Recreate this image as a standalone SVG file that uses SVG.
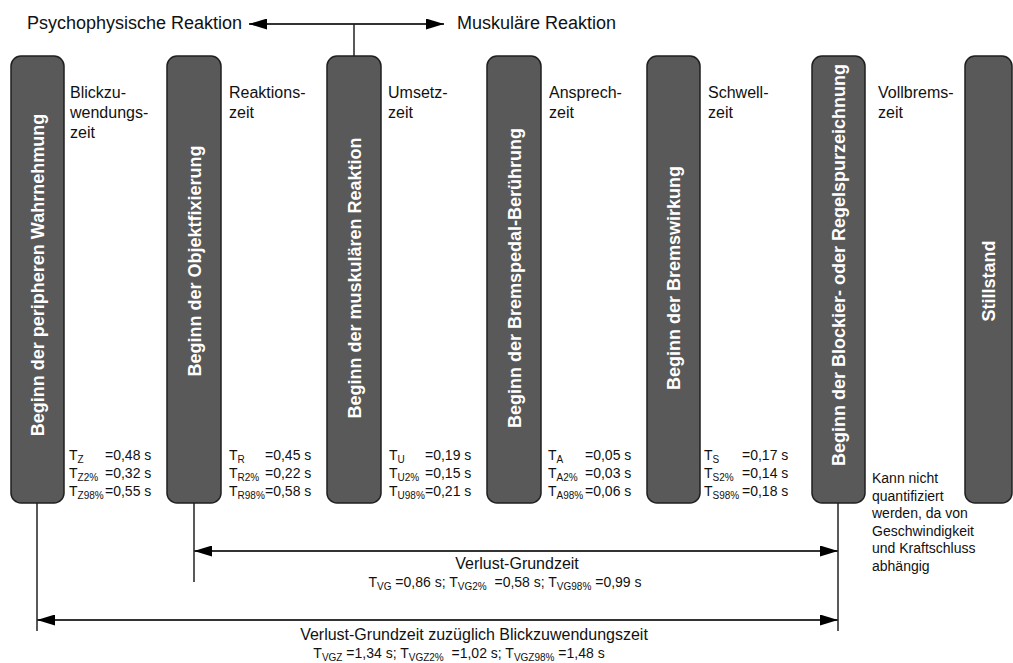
<svg xmlns="http://www.w3.org/2000/svg" width="1013" height="663" viewBox="0 0 1013 663">
  <style>
    .bar { fill: #595959; stroke: #1f1f1f; stroke-width: 1.5; }
    .barlabel { font-family: "Liberation Sans", Arial, sans-serif; font-size: 18px; font-weight: bold; fill: #ffffff; text-anchor: middle; }
    .lbl { font-family: "Liberation Sans", Arial, sans-serif; font-size: 16px; fill: #111111; }
    .title { font-family: "Liberation Sans", Arial, sans-serif; font-size: 18px; fill: #111111; }
    .val { font-family: "Liberation Sans", Arial, sans-serif; font-size: 14px; fill: #111111; }
    .sub { font-size: 10px; }
    .mid { text-anchor: middle; }
    .conn { stroke: #222222; stroke-width: 1.5; fill: none; }
    .dim { stroke: #333333; stroke-width: 2; fill: none; marker-start: url(#head); marker-end: url(#head); }
  </style>
  <defs>
    <marker id="head" viewBox="0 0 18 11" refX="18" refY="5.5" markerWidth="18" markerHeight="11" markerUnits="userSpaceOnUse" orient="auto-start-reverse">
      <path d="M0,0 L18,5.5 L0,11 Z" fill="#000000"/>
    </marker>
  </defs>

  <rect width="1013" height="663" fill="#ffffff"/>

  <!-- phase headings -->
  <text class="title" x="27" y="29">Psychophysische Reaktion</text>
  <text class="title" x="457" y="29">Muskuläre Reaktion</text>

  <!-- connectors -->
  <g id="connectors">
    <line class="dim" x1="249" y1="24" x2="444" y2="24"/>
    <line class="conn" x1="354" y1="24" x2="354" y2="56"/>
    <line class="conn" x1="37" y1="503" x2="37" y2="631"/>
    <line class="conn" x1="194" y1="503" x2="194" y2="582"/>
    <line class="conn" x1="838" y1="503" x2="838" y2="631"/>
    <line class="dim" x1="194" y1="551" x2="838" y2="551"/>
    <line class="dim" x1="37" y1="620" x2="838" y2="620"/>
  </g>

  <!-- event bars -->
  <g id="node-wahrnehmung">
    <rect class="bar" x="11" y="56" width="53" height="447" rx="10"/>
    <text class="barlabel" transform="translate(44,275) rotate(-90)">Beginn der peripheren Wahrnehmung</text>
  </g>
  <g id="node-objektfixierung">
    <rect class="bar" x="167" y="56" width="54" height="447" rx="10"/>
    <text class="barlabel" transform="translate(200.5,261) rotate(-90)">Beginn der Objektfixierung</text>
  </g>
  <g id="node-muskulaer">
    <rect class="bar" x="327" y="56" width="54" height="447" rx="10"/>
    <text class="barlabel" transform="translate(360.5,278) rotate(-90)">Beginn der muskulären Reaktion</text>
  </g>
  <g id="node-bremspedal">
    <rect class="bar" x="487" y="56" width="54" height="447" rx="10"/>
    <text class="barlabel" transform="translate(520.5,278) rotate(-90)">Beginn der Bremspedal-Berührung</text>
  </g>
  <g id="node-bremswirkung">
    <rect class="bar" x="647" y="56" width="53" height="447" rx="10"/>
    <text class="barlabel" transform="translate(680,278) rotate(-90)">Beginn der Bremswirkung</text>
  </g>
  <g id="node-blockierspur">
    <rect class="bar" x="812" y="56" width="53" height="447" rx="10"/>
    <text class="barlabel" transform="translate(845,265) rotate(-90)">Beginn der Blockier- oder Regelspurzeichnung</text>
  </g>
  <g id="node-stillstand">
    <rect class="bar" x="965" y="56" width="47" height="447" rx="10"/>
    <text class="barlabel" transform="translate(995,281) rotate(-90)">Stillstand</text>
  </g>

  <!-- interval names -->
  <g id="label-blickzuwendung">
    <text class="lbl" x="70" y="98">Blickzu-</text>
    <text class="lbl" x="70" y="118">wendungs-</text>
    <text class="lbl" x="70" y="138">zeit</text>
  </g>
  <g id="label-reaktion">
    <text class="lbl" x="229" y="98">Reaktions-</text>
    <text class="lbl" x="229" y="118">zeit</text>
  </g>
  <g id="label-umsetz">
    <text class="lbl" x="388" y="98">Umsetz-</text>
    <text class="lbl" x="388" y="118">zeit</text>
  </g>
  <g id="label-ansprech">
    <text class="lbl" x="549" y="98">Ansprech-</text>
    <text class="lbl" x="549" y="118">zeit</text>
  </g>
  <g id="label-schwell">
    <text class="lbl" x="708" y="98">Schwell-</text>
    <text class="lbl" x="708" y="118">zeit</text>
  </g>
  <g id="label-vollbrems">
    <text class="lbl" x="878" y="98">Vollbrems-</text>
    <text class="lbl" x="878" y="118">zeit</text>
  </g>

  <!-- interval values -->
  <g id="values-z">
    <text class="val" x="69" y="460">T<tspan class="sub" dy="3">Z</tspan></text>
    <text class="val" x="105" y="460">=0,48 s</text>
    <text class="val" x="69" y="478">T<tspan class="sub" dy="3">Z2%</tspan></text>
    <text class="val" x="105" y="478">=0,32 s</text>
    <text class="val" x="69" y="496">T<tspan class="sub" dy="3">Z98%</tspan></text>
    <text class="val" x="105" y="496">=0,55 s</text>
  </g>
  <g id="values-r">
    <text class="val" x="229" y="460">T<tspan class="sub" dy="3">R</tspan></text>
    <text class="val" x="265" y="460">=0,45 s</text>
    <text class="val" x="229" y="478">T<tspan class="sub" dy="3">R2%</tspan></text>
    <text class="val" x="265" y="478">=0,22 s</text>
    <text class="val" x="229" y="496">T<tspan class="sub" dy="3">R98%</tspan></text>
    <text class="val" x="265" y="496">=0,58 s</text>
  </g>
  <g id="values-u">
    <text class="val" x="389" y="460">T<tspan class="sub" dy="3">U</tspan></text>
    <text class="val" x="425" y="460">=0,19 s</text>
    <text class="val" x="389" y="478">T<tspan class="sub" dy="3">U2%</tspan></text>
    <text class="val" x="425" y="478">=0,15 s</text>
    <text class="val" x="389" y="496">T<tspan class="sub" dy="3">U98%</tspan></text>
    <text class="val" x="425" y="496">=0,21 s</text>
  </g>
  <g id="values-a">
    <text class="val" x="548" y="460">T<tspan class="sub" dy="3">A</tspan></text>
    <text class="val" x="585" y="460">=0,05 s</text>
    <text class="val" x="548" y="478">T<tspan class="sub" dy="3">A2%</tspan></text>
    <text class="val" x="585" y="478">=0,03 s</text>
    <text class="val" x="548" y="496">T<tspan class="sub" dy="3">A98%</tspan></text>
    <text class="val" x="585" y="496">=0,06 s</text>
  </g>
  <g id="values-s">
    <text class="val" x="704" y="460">T<tspan class="sub" dy="3">S</tspan></text>
    <text class="val" x="742" y="460">=0,17 s</text>
    <text class="val" x="704" y="478">T<tspan class="sub" dy="3">S2%</tspan></text>
    <text class="val" x="742" y="478">=0,14 s</text>
    <text class="val" x="704" y="496">T<tspan class="sub" dy="3">S98%</tspan></text>
    <text class="val" x="742" y="496">=0,18 s</text>
  </g>

  <!-- note on full braking -->
  <g id="note-vollbremszeit">
    <text class="val" x="872" y="483">Kann nicht</text>
    <text class="val" x="872" y="500.5">quantifiziert</text>
    <text class="val" x="872" y="518">werden, da von</text>
    <text class="val" x="872" y="535.5">Geschwindigkeit</text>
    <text class="val" x="872" y="553">und Kraftschluss</text>
    <text class="val" x="872" y="570.5">abhängig</text>
  </g>

  <!-- totals -->
  <g id="total-verlust-grundzeit">
    <text class="lbl mid" x="517" y="569">Verlust-Grundzeit</text>
    <text class="val mid" x="505" y="587">T<tspan class="sub" dy="3">VG</tspan><tspan dy="-3"> =0,86 s; T</tspan><tspan class="sub" dy="3">VG2%</tspan><tspan dy="-3" xml:space="preserve">  =0,58 s; T</tspan><tspan class="sub" dy="3">VG98%</tspan><tspan dy="-3"> =0,99 s</tspan></text>
  </g>
  <g id="total-mit-blickzuwendung">
    <text class="lbl mid" x="474" y="640">Verlust-Grundzeit zuzüglich Blickzuwendungszeit</text>
    <text class="val mid" x="459" y="658">T<tspan class="sub" dy="3">VGZ</tspan><tspan dy="-3"> =1,34 s; T</tspan><tspan class="sub" dy="3">VGZ2%</tspan><tspan dy="-3" xml:space="preserve">  =1,02 s; T</tspan><tspan class="sub" dy="3">VGZ98%</tspan><tspan dy="-3"> =1,48 s</tspan></text>
  </g>
</svg>
